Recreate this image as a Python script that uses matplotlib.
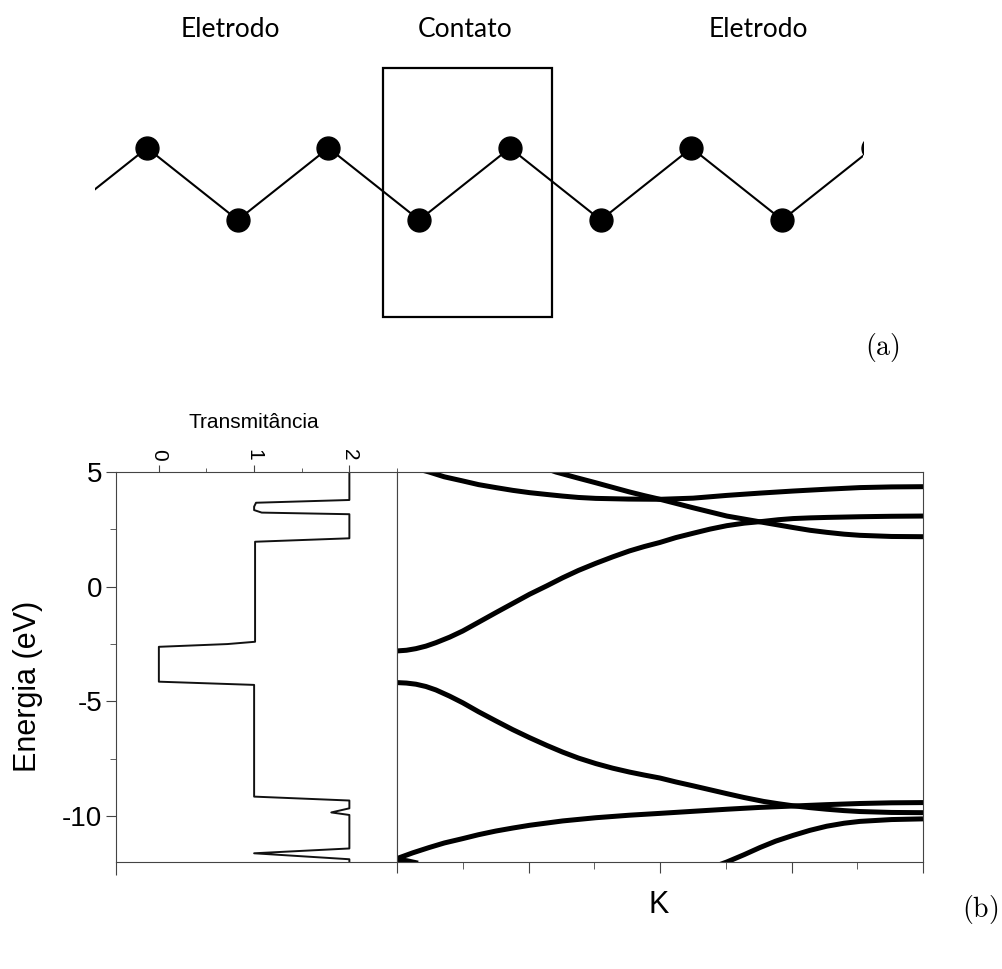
import matplotlib
matplotlib.use("Agg")
import matplotlib.pyplot as plt
from matplotlib.patches import Rectangle
from matplotlib.ticker import MultipleLocator

plt.rcParams['font.family'] = ['Liberation Sans', 'DejaVu Sans']
plt.rcParams['mathtext.fontset'] = 'cm'

# --- (a) chain: site index and up/down level
chain_idx = [-1, 0, 1, 2, 3, 4, 5, 6, 7, 8, 9]
chain_lvl = [0, 1, 0, 1, 0, 1, 0, 1, 0, 1, 0]
atom_idx = [0, 1, 2, 3, 4, 5, 6, 7, 8]
atom_lvl = [1, 0, 1, 0, 1, 0, 1, 0, 1]
contact_from, contact_to = 2.6, 4.46
region_names = ['Eletrodo', 'Contato', 'Eletrodo']
region_pos = [0.92, 3.51, 6.74]

# --- (b) transmittance vs energy
trans_T = [2.0, 2.0, 1.02, 1.0, 1.0, 1.08, 2.0, 2.0, 1.01, 1.01, 0.72, 0.0,
           0.0, 1.0, 1.0, 2.0, 2.0, 1.81, 2.0, 2.0, 1.0, 2.0, 2.0]
trans_E = [5.0, 3.78, 3.66, 3.49, 3.34, 3.23, 3.16, 2.11, 1.96, -2.40, -2.50, -2.62,
           -4.14, -4.28, -9.15, -9.32, -9.66, -9.84, -9.95, -11.41, -11.62, -11.88, -12.0]

# --- (b) bands
kA = [0.045, 0.061, 0.09, 0.125, 0.155, 0.188, 0.22, 0.252, 0.285, 0.315, 0.345, 0.378, 0.44, 0.50,
      0.563, 0.627, 0.69, 0.753, 0.817, 0.88, 0.94, 1.0]
eA = [5.1, 5.0, 4.79, 4.61, 4.45, 4.32, 4.20, 4.10, 4.02, 3.95, 3.89, 3.85, 3.82, 3.81,
      3.86, 3.98, 4.08, 4.17, 4.25, 4.32, 4.35, 4.36]
kB = [0.29, 0.302, 0.34, 0.378, 0.41, 0.442, 0.47, 0.50, 0.563, 0.627, 0.697, 0.753, 0.785, 0.817,
      0.85, 0.88, 0.94, 1.0]
eB = [5.1, 5.0, 4.76, 4.53, 4.33, 4.13, 3.97, 3.81, 3.44, 3.08, 2.80, 2.58, 2.46, 2.37,
      2.29, 2.24, 2.19, 2.18]
kC = [0.0, 0.018, 0.036, 0.055, 0.074, 0.1, 0.125, 0.155, 0.188, 0.22, 0.252, 0.285, 0.315, 0.345,
      0.378, 0.41, 0.442, 0.47, 0.50, 0.53, 0.563, 0.595, 0.627, 0.66, 0.697, 0.725, 0.753, 0.785,
      0.817, 0.88, 0.94, 1.0]
eC = [-2.80, -2.77, -2.70, -2.59, -2.44, -2.20, -1.93, -1.55, -1.13, -0.73, -0.33, 0.04, 0.39, 0.71,
      1.02, 1.30, 1.56, 1.75, 1.93, 2.14, 2.33, 2.51, 2.66, 2.77, 2.85, 2.92, 2.97, 3.00,
      3.02, 3.05, 3.07, 3.08]
kD = [0.0, 0.018, 0.036, 0.055, 0.074, 0.1, 0.125, 0.155, 0.188, 0.22, 0.252, 0.285, 0.315, 0.345,
      0.378, 0.41, 0.442, 0.47, 0.50, 0.53, 0.563, 0.595, 0.627, 0.66, 0.697, 0.725, 0.753, 0.785,
      0.817, 0.85, 0.88, 0.94, 1.0]
eD = [-4.18, -4.20, -4.25, -4.35, -4.50, -4.77, -5.06, -5.45, -5.85, -6.23, -6.58, -6.92, -7.21, -7.47,
      -7.71, -7.91, -8.08, -8.21, -8.34, -8.51, -8.68, -8.85, -9.02, -9.19, -9.36, -9.46, -9.55, -9.63,
      -9.70, -9.76, -9.80, -9.84, -9.85]
kE = [0.0, 0.03, 0.061, 0.09, 0.125, 0.155, 0.188, 0.22, 0.252, 0.315, 0.378, 0.442, 0.50, 0.563,
      0.627, 0.69, 0.753, 0.817, 0.88, 0.94, 1.0]
eE = [-11.85, -11.6, -11.37, -11.17, -10.98, -10.81, -10.65, -10.52, -10.40, -10.21, -10.07, -9.96,
      -9.88, -9.79, -9.70, -9.62, -9.56, -9.50, -9.45, -9.42, -9.41]
kF = [0.615, 0.627, 0.66, 0.69, 0.72, 0.753, 0.785, 0.817, 0.85, 0.88, 0.94, 1.0]
eF = [-12.1, -12.0, -11.68, -11.37, -11.09, -10.84, -10.62, -10.44, -10.31, -10.23, -10.15, -10.12]
kG = [0.0, 0.02, 0.04]
eG = [-11.88, -11.95, -12.05]
bands = [(kA, eA), (kB, eB), (kC, eC), (kD, eD), (kE, eE), (kF, eF), (kG, eG)]

W, H = 1003, 969
fig = plt.figure(figsize=(W / 100, H / 100), dpi=100)


def px_axes(x0, y0, x1, y1):
    return fig.add_axes([x0 / W, 1 - y1 / H, (x1 - x0) / W, (y1 - y0) / H])


# ---------- (a)
ax = px_axes(95, 40, 863, 330)
ax.plot(chain_idx, chain_lvl, color='black', lw=1.5)
ax.plot(atom_idx, atom_lvl, 'o', ms=16.5, color='black')
ax.add_patch(Rectangle((contact_from, -1.35), contact_to - contact_from, 3.46,
                       fill=False, lw=1.6, edgecolor='black'))
for name, pos in zip(region_names, region_pos):
    ax.text(pos, 2.64, name, ha='center', va='center', fontsize=19, family='Lato')
ax.set_xlim(-0.573, 7.89)
ax.set_ylim(-1.528, 2.5)
ax.axis('off')

fig.text(882 / W, 1 - 348 / H, r'$(\mathrm{a})$', fontsize=20, ha='center', va='center')
fig.text(980 / W, 1 - 910 / H, r'$(\mathrm{b})$', fontsize=20, ha='center', va='center')

# ---------- (b) transmittance
spine_c = '#444444'
axt = px_axes(116, 472, 397, 862)
axt.plot(trans_T, trans_E, color='#111111', lw=1.4)
axt.set_xlim(-0.45, 2.5)
axt.set_ylim(-12, 5)
axt.xaxis.tick_top()
axt.set_xticks([0, 1, 2])
axt.set_xticklabels(['0', '1', '2'], rotation=-90, fontsize=15)
axt.xaxis.set_minor_locator(MultipleLocator(0.5))
axt.set_yticks([5, 0, -5, -10])
axt.set_yticklabels(['5', '0', '-5', '-10'], fontsize=20)
axt.yaxis.set_minor_locator(MultipleLocator(2.5))
axt.tick_params(axis='x', which='major', length=5, pad=3, color=spine_c)
axt.tick_params(axis='x', which='minor', length=3, color=spine_c)
axt.tick_params(axis='y', which='major', length=7, pad=3, color=spine_c)
axt.tick_params(axis='y', which='minor', length=4, color=spine_c)
for s in axt.spines.values():
    s.set_color(spine_c)
sec = axt.secondary_xaxis('bottom')
sec.set_xticks([-0.45])
sec.set_xticklabels([''])
sec.tick_params(length=9, color=spine_c)
sec.spines['bottom'].set_visible(False)

fig.text(254 / W, 1 - 428 / H, 'Transmitância', fontsize=15, ha='center', va='baseline')
fig.text(28 / W, 1 - 686 / H, 'Energia (eV)', fontsize=22, rotation=90,
         ha='center', va='center')

# ---------- (b) bands
axb = px_axes(397, 472, 923, 862)
for k, e in bands:
    axb.plot(k, e, color='black', lw=3.6, solid_capstyle='butt', solid_joinstyle='round')
axb.set_xlim(0, 1)
axb.set_ylim(-12, 5)
axb.set_xticks([0, 0.25, 0.5, 0.75, 1.0])
axb.set_xticklabels([])
axb.xaxis.set_minor_locator(MultipleLocator(0.125))
axb.set_yticks([])
axb.tick_params(axis='x', which='major', length=8, color=spine_c)
axb.tick_params(axis='x', which='minor', length=5, color=spine_c)
for s in axb.spines.values():
    s.set_color(spine_c)

fig.text(659 / W, 1 - 905 / H, 'K', fontsize=22, ha='center', va='center')

fig.savefig('out.png', dpi=100)
